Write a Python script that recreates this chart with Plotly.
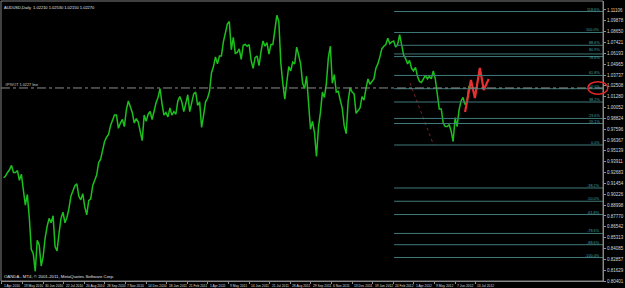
import plotly.graph_objects as go

# ---------------- data ----------------
# semi-weekly closes AUDUSD daily chart (two readings per week, from Apr 2010)
close = [
    0.9210, 0.9230, 0.9270, 0.9300, 0.9350, 0.9270, 0.9270, 0.9290, 0.9180, 0.9250,
    0.9070, 0.8900, 0.9020, 0.8760, 0.8400, 0.8350, 0.8150, 0.8500, 0.8450, 0.8210,
    0.8320, 0.8530, 0.8660, 0.8750, 0.8700, 0.8780, 0.8430, 0.8380, 0.8580, 0.8750,
    0.8820, 0.8700, 0.8760, 0.8860, 0.9000, 0.9050, 0.9120, 0.9140, 0.9000, 0.8960,
    0.9030, 0.8880, 0.8790, 0.8950, 0.8970, 0.9120, 0.9180, 0.9240, 0.9380, 0.9420,
    0.9520, 0.9620, 0.9670, 0.9700, 0.9800, 0.9870, 0.9920, 0.9920, 0.9770, 0.9830,
    0.9870, 0.9790, 0.9980, 1.0080, 1.0020, 0.9950, 0.9830, 0.9880, 0.9840, 0.9720,
    0.9630, 0.9920, 0.9850, 0.9930, 0.9960, 0.9870, 0.9980, 1.0060, 1.0120, 1.0220,
    1.0050, 0.9920, 0.9950, 0.9900, 1.0000, 0.9920, 0.9960, 0.9930, 1.0080, 1.0130,
    1.0070, 0.9960, 1.0050, 1.0150, 0.9960, 1.0080, 1.0160, 1.0180, 1.0030, 1.0070,
    0.9780, 0.9920, 1.0070, 1.0110, 1.0190, 1.0400, 1.0470, 1.0580, 1.0500, 1.0590,
    1.0590, 1.0750, 1.0840, 1.0950, 1.0980, 1.0660, 1.0800, 1.0620, 1.0630, 1.0670,
    1.0550, 1.0710, 1.0720, 1.0700, 1.0720, 1.0540, 1.0450, 1.0570, 1.0590, 1.0480,
    1.0640, 1.0760, 1.0700, 1.0740, 1.0610, 1.0720, 1.0720, 1.0900, 1.1050, 1.0980,
    1.0510, 1.0280, 1.0100, 1.0290, 1.0470, 1.0420, 1.0520, 1.0500, 1.0690, 1.0600,
    1.0500, 1.0280, 1.0220, 1.0360, 1.0010, 0.9760, 0.9850, 0.9720, 0.9450, 0.9780,
    0.9950, 1.0180, 1.0120, 1.0280, 1.0570, 1.0700, 1.0280, 1.0380, 1.0180, 1.0190,
    1.0090, 1.0000, 0.9800, 0.9710, 1.0080, 1.0230, 1.0180, 1.0160, 0.9940, 0.9970,
    1.0000, 1.0130, 1.0090, 1.0220, 1.0330, 1.0270, 1.0300, 1.0330, 1.0450, 1.0500,
    1.0580, 1.0670, 1.0700, 1.0720, 1.0790, 1.0730, 1.0750, 1.0760, 1.0690, 1.0720,
    1.0830, 1.0720, 1.0600, 1.0560, 1.0500, 1.0540, 1.0450, 1.0420, 1.0460, 1.0360,
    1.0300, 1.0290, 1.0330, 1.0370, 1.0330, 1.0360, 1.0330, 1.0420, 1.0330, 1.0150,
    0.9990, 0.9990, 0.9830, 0.9790, 0.9790, 0.9810, 0.9740, 0.9620, 0.9890, 0.9790,
    0.9980, 1.0080, 1.0120, 1.0040, 1.0070, 1.0250,
]

date_labels = ["1 Apr 2010", "19 May 2010", "30 Jun 2010", "22 Jul 2010", "20 Aug 2010",
               "28 Sep 2010", "7 Nov 2010", "14 Dec 2010", "18 Jan 2011", "21 Feb 2011",
               "1 Apr 2011", "9 May 2011", "14 Jun 2011", "21 Jul 2011", "28 Aug 2011",
               "29 Sep 2011", "6 Nov 2011", "13 Dec 2011", "19 Jan 2012", "24 Feb 2012",
               "1 Apr 2012", "9 May 2012", "7 Jun 2012", "13 Jul 2012"]

price_ticks = [1.11106, 1.09878, 1.08650, 1.07421, 1.06193, 1.04965, 1.03737, 1.02508,
               1.01280, 1.00052, 0.98824, 0.97596, 0.96367, 0.95139, 0.93911, 0.92683,
               0.91454, 0.90226, 0.88998, 0.87770, 0.86542, 0.85313, 0.84085, 0.82857,
               0.81629, 0.80401]

fib_high = 1.0856
fib_low = 0.9581
fib_levels = [1.186, 1.0, 0.886, 0.809, 0.786, 0.618, 0.5, 0.382, 0.236, 0.191, 0.0,
              -0.382, -0.5, -0.618, -0.786, -0.886, -1.0]

# hand-drawn projection (bar index, price)
proj_bars = [584.6, 592.0, 597.0, 603.2, 608.2, 614.4]
proj_prices = [0.9955, 1.0318, 1.0114, 1.0453, 1.0204, 1.0329]

# dotted trend line (bar index, price)
trend_bars = [515.0, 544.8]
trend_prices = [1.0284, 0.9581]

hline_price = 1.0227
fib_start_bar = 495
header = "AUDUSD,Daily  1.02210 1.02530 1.02150 1.02270"
footer = "OANDA - MT4, \u00a9 2001-2011, MetaQuotes Software Corp."
hline_text = "#PIVOT 1.0227 line"

# ---------------- figure ----------------
BARS_PER_LABEL = 26
x_close = [i * 2.5 + 2 for i in range(len(close))]
x_min, x_max = -1.24, 758.7
y_min, y_max = 0.80401, 1.12125

FONT = "Liberation Sans"
fig = go.Figure()

shapes = []
annotations = []

# fib lines
for r in fib_levels:
    p = fib_low + r * (fib_high - fib_low)
    shapes.append(dict(type="line", xref="x", yref="y", x0=fib_start_bar, x1=x_max,
                       y0=p, y1=p, line=dict(color="#3F7A7A", width=1)))
    shift = 2 if abs(r - 0.809) < 1e-9 else (-3 if abs(r - 0.786) < 1e-9 else 0)
    annotations.append(dict(xref="x", yref="y", x=x_max - 2, y=p, xanchor="right",
                            yanchor="bottom", text=f"{r*100:.1f}%", showarrow=False,
                            font=dict(family=FONT, size=3.8, color="#3FA3A3"),
                            borderpad=0, yshift=-1 + shift))

# horizontal dashed line
shapes.append(dict(type="line", xref="paper", yref="y", x0=0, x1=1, y0=hline_price,
                   y1=hline_price, line=dict(color="#8C8C8C", width=1, dash="dashdot")))
annotations.append(dict(xref="paper", yref="y", x=0.005, y=hline_price, xanchor="left",
                        yanchor="bottom", text=hline_text, showarrow=False,
                        font=dict(family=FONT, size=3.8, color="#D0D0D0"), borderpad=0))

fig.add_trace(go.Scatter(x=trend_bars, y=trend_prices, mode="lines",
                         line=dict(color="#7A2222", width=1, dash="dot"),
                         hoverinfo="skip", showlegend=False))

fig.add_trace(go.Scatter(x=x_close, y=close, mode="lines",
                         line=dict(color="#1CC01C", width=1.5),
                         showlegend=False))

fig.add_trace(go.Scatter(x=proj_bars, y=proj_prices, mode="lines",
                         line=dict(color="#E8302E", width=2.2),
                         hoverinfo="skip", showlegend=False))

# frame
shapes.append(dict(type="rect", xref="paper", yref="paper", x0=0, x1=1, y0=0, y1=1,
                   line=dict(color="#808080", width=1)))

# red circle round the price label
shapes.append(dict(type="circle", xref="paper", yref="y", x0=0.975, x1=1.008,
                   y0=hline_price - 0.0072, y1=hline_price + 0.0072,
                   line=dict(color="#E02828", width=1.5)))

# date labels
for i, t in enumerate(date_labels):
    annotations.append(dict(xref="x", yref="paper", x=i * BARS_PER_LABEL + 1, y=0,
                            xanchor="left", yanchor="top", text=t, showarrow=False,
                            font=dict(family=FONT, size=3.3, color="#D8D8D8"),
                            borderpad=0, yshift=-1.5))

annotations.append(dict(xref="paper", yref="paper", x=0.004, y=1, xanchor="left",
                        yanchor="top", text=header, showarrow=False,
                        font=dict(family=FONT, size=4, color="#E0E0E0"),
                        borderpad=0, yshift=-3))
annotations.append(dict(xref="paper", yref="paper", x=0.004, y=0, xanchor="left",
                        yanchor="bottom", text=footer, showarrow=False,
                        font=dict(family=FONT, size=4.3, color="#E0E0E0"),
                        borderpad=0, yshift=1))

fig.update_layout(
    width=625, height=288,
    margin=dict(l=1, r=13, t=1, b=7),
    paper_bgcolor="black", plot_bgcolor="black",
    showlegend=False,
    shapes=shapes, annotations=annotations,
    xaxis=dict(range=[x_min, x_max], showgrid=False, zeroline=False,
               tickvals=[i * BARS_PER_LABEL for i in range(len(date_labels))],
               showticklabels=False, ticks="outside", ticklen=2, tickcolor="#909090",
               showline=True, linecolor="#909090", linewidth=1),
    yaxis=dict(range=[y_min, y_max], side="right", showgrid=False, zeroline=False,
               tickvals=price_ticks, ticktext=[f"{v:.5f}" for v in price_ticks],
               tickfont=dict(family=FONT, size=4.5, color="#D8D8D8"),
               ticks="outside", ticklen=2, tickcolor="#909090",
               showline=True, linecolor="#909090", linewidth=1),
)

fig.write_html("out.html")
